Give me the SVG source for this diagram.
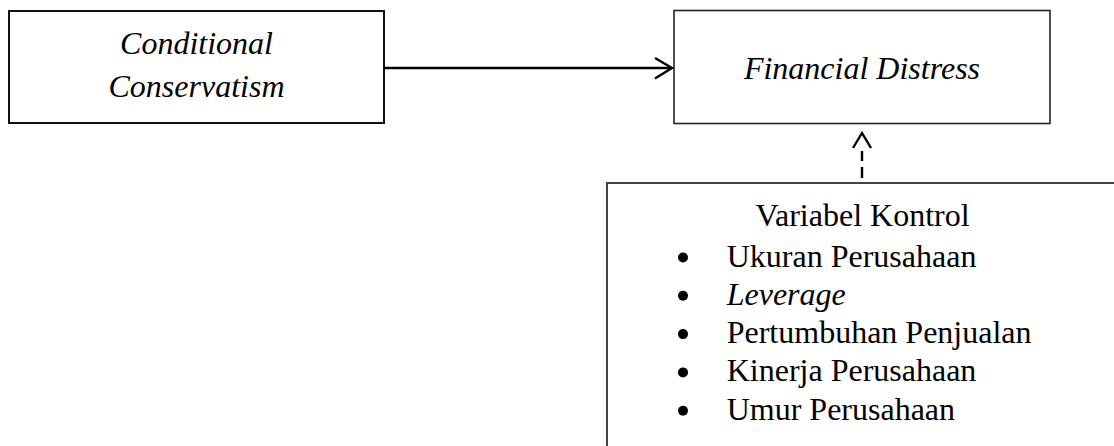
<svg xmlns="http://www.w3.org/2000/svg" width="1114" height="446" viewBox="0 0 1114 446">
<style>
text{font-family:"Liberation Serif","Times New Roman",serif;font-size:32px;fill:#000}
.it{font-style:italic}
.box{fill:#fff;stroke:#111;stroke-width:2}
.conn{fill:none;stroke:#000;stroke-width:2.4}
</style>
<rect width="1114" height="446" fill="#fff"/>
<g id="node-conditional">
<rect class="box" x="9" y="11" width="375" height="112"/>
<text class="it" x="196.5" y="53.5" text-anchor="middle">Conditional</text>
<text class="it" x="196.5" y="96.5" text-anchor="middle">Conservatism</text>
</g>
<g id="node-financial">
<rect class="box" x="674" y="10.5" width="376" height="113" style="stroke-width:1.6;stroke:#222"/>
<text class="it" x="862" y="79" text-anchor="middle">Financial Distress</text>
</g>
<g id="node-control">
<rect class="box" x="607" y="183" width="530" height="290" style="stroke:#444"/>
<text x="862.5" y="225.7" text-anchor="middle">Variabel Kontrol</text>
<circle cx="683" cy="257.5" r="5"/>
<circle cx="683" cy="295.8" r="5"/>
<circle cx="683" cy="334.1" r="5"/>
<circle cx="683" cy="372.4" r="5"/>
<circle cx="683" cy="410.7" r="5"/>
<text x="726.7" y="266.5">Ukuran Perusahaan</text>
<text class="it" x="726.7" y="304.8">Leverage</text>
<text x="726.7" y="343.1">Pertumbuhan Penjualan</text>
<text x="726.7" y="381.4">Kinerja Perusahaan</text>
<text x="726.7" y="419.7">Umur Perusahaan</text>
</g>
<g id="connectors">
<line class="conn" x1="384" y1="68" x2="672" y2="68"/>
<polyline class="conn" points="655,58 672,68 655,78.5"/>
<line class="conn" x1="862" y1="178" x2="862" y2="151" stroke-dasharray="11 6"/>
<polyline class="conn" points="853,148 862,133 871,148"/>
</g>
</svg>
